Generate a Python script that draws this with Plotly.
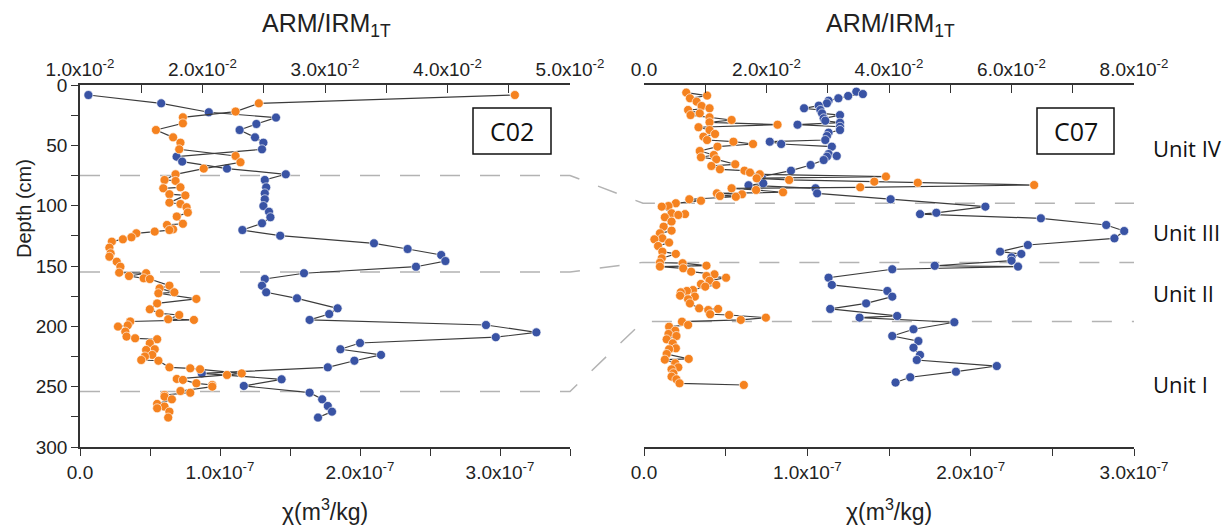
import numpy as np
import plotly.graph_objects as go

# ---------------- data ----------------
# Core C02: ARM/IRM1T (x 1e-2) vs depth (cm)
c02_arm_depth = [8.3, 15.2, 22.0, 26.8, 31.8, 37.3, 43.4, 47.8, 53.3, 58.8, 64.0, 69.3, 74.0, 78.7, 79.5,
                 84.8, 85.6, 90.5, 91.5, 97.5, 98.6, 101.3, 105.7, 109.0, 115.0, 116.0, 119.6, 120.2, 121.5,
                 122.9, 126.2, 127.9, 129.8, 134.8, 139.5, 142.3, 146.4, 150.6, 155.5, 156.0, 158.3, 160.2,
                 160.8, 166.3, 168.5, 171.8, 172.6, 177.3, 181.0, 185.9, 189.2, 190.6, 194.1, 194.7, 196.0,
                 199.2, 200.2, 204.4, 208.5, 209.9, 210.7, 214.0, 219.0, 219.6, 223.7, 225.0, 227.9, 228.5,
                 234.0, 234.8, 235.6, 239.0, 240.3, 243.6, 244.4, 247.2, 248.6, 250.0, 253.6, 255.0, 256.9,
                 258.3, 260.5, 264.3, 266.5, 267.9, 270.7, 275.6]
c02_arm = [4.55, 2.46, 2.27, 1.84, 1.84, 1.62, 1.76, 1.82, 1.81, 2.27, 2.31, 2.01, 1.78, 1.69, 1.78,
           1.82, 1.68, 1.73, 1.86, 1.73, 1.82, 1.87, 1.88, 1.79, 1.84, 1.71, 1.76, 1.73, 1.61,
           1.46, 1.42, 1.35, 1.26, 1.24, 1.25, 1.24, 1.30, 1.33, 1.32, 1.54, 1.40, 1.52,
           1.57, 1.73, 1.65, 1.77, 1.64, 1.95, 1.63, 1.57, 1.65, 1.81, 1.72, 1.93, 1.41,
           1.39, 1.31, 1.37, 1.38, 1.45, 1.63, 1.57, 1.61, 1.54, 1.59, 1.53, 1.50, 1.64,
           1.73, 1.90, 1.98, 2.32, 2.20, 1.79, 1.84, 1.95, 2.08, 2.08, 1.82, 1.90, 1.69,
           1.69, 1.75, 1.63, 1.69, 1.63, 1.73, 1.72]

# Core C02: chi (x 1e-7 m3/kg) vs depth (cm)
c02_chi_depth = [8.3, 15.2, 22.6, 27.0, 32.3, 37.3, 43.4, 47.8, 53.3, 59.4, 63.5, 69.3, 74.0, 78.7, 84.8,
                 89.8, 94.7, 100.3, 105.0, 109.6, 114.6, 120.2, 124.9, 131.2, 135.9, 140.9, 145.9, 150.6,
                 156.0, 160.8, 166.3, 171.8, 176.8, 185.1, 189.8, 194.7, 198.9, 205.0, 209.0, 213.8, 219.0,
                 223.7, 228.5, 234.0, 239.0, 243.9, 249.4, 255.0, 260.5, 266.0, 270.7, 275.6]
c02_chi = [0.06, 0.58, 0.92, 1.40, 1.26, 1.14, 1.25, 1.31, 1.30, 0.69, 0.73, 1.05, 1.47, 1.32, 1.33,
           1.32, 1.32, 1.31, 1.35, 1.36, 1.30, 1.16, 1.43, 2.10, 2.34, 2.58, 2.61, 2.40,
           1.60, 1.32, 1.30, 1.33, 1.55, 1.84, 1.78, 1.64, 2.90, 3.26, 2.97, 2.00, 1.86,
           2.15, 1.96, 1.77, 0.87, 1.44, 1.17, 1.64, 1.73, 1.77, 1.80, 1.70]

# Core C07: ARM/IRM1T (x 1e-2) vs depth (cm)
c07_arm_depth = [6.3, 8.8, 11.0, 13.8, 17.4, 19.3, 20.7, 23.5, 24.9, 26.8, 29.0, 30.9, 32.9, 35.0, 37.3,
                 40.6, 42.8, 45.6, 47.0, 48.9, 51.1, 54.7, 58.0, 59.9, 61.6, 65.7, 67.1, 69.9, 71.0, 72.6,
                 74.0, 75.9, 77.3, 78.7, 80.1, 81.0, 82.9, 84.8, 85.6, 87.0, 88.9, 89.8, 90.6, 92.0, 92.6,
                 94.7, 95.9, 98.0, 100.3, 100.8, 106.3, 107.0, 107.7, 109.6, 113.2, 117.4, 120.7, 122.9,
                 127.0, 127.9, 130.6, 133.4, 138.1, 140.0, 143.6, 147.2, 147.7, 149.7, 150.5, 151.9, 154.7,
                 156.9, 158.3, 159.7, 162.2, 164.9, 165.7, 167.1, 169.9, 170.7, 171.8, 174.6, 175.4, 177.6,
                 181.0, 185.1, 185.6, 186.5, 190.0, 190.6, 192.8, 194.7, 196.1, 198.9, 200.3, 203.6, 206.3,
                 208.0, 210.8, 214.1, 218.2, 219.0, 222.9, 227.0, 227.6, 230.6, 234.0, 235.6, 238.9, 241.7,
                 243.9, 247.2, 248.6]
c07_arm = [0.69, 1.03, 0.75, 0.86, 0.94, 1.07, 0.72, 0.91, 0.76, 1.07, 1.43, 1.07, 2.18, 0.89, 1.07,
           1.16, 0.97, 1.03, 1.46, 1.78, 1.20, 0.91, 1.14, 0.93, 1.18, 1.49, 1.10, 1.24, 1.64, 1.73,
           1.89, 3.95, 1.84, 2.37, 3.76, 4.47, 6.37, 3.53, 1.43, 1.83, 2.27, 1.19, 1.60, 1.24, 1.50,
           0.74, 0.93, 0.52, 0.40, 0.29, 0.45, 0.67, 0.56, 0.34, 0.45, 0.32, 0.45, 0.26,
           0.30, 0.17, 0.41, 0.23, 0.30, 0.52, 0.29, 0.26, 0.63, 1.02, 0.26, 0.64, 0.77,
           1.15, 1.02, 1.34, 1.07, 0.93, 1.18, 1.00, 0.80, 0.70, 0.60, 0.59, 0.83, 0.72,
           0.75, 0.90, 1.21, 1.05, 1.08, 1.39, 1.99, 1.58, 0.62, 0.72, 0.41, 0.51, 0.40,
           0.53, 0.37, 0.47, 0.52, 0.41, 0.37, 0.73, 0.34, 0.51, 0.56, 0.45, 0.48, 0.45,
           0.53, 0.58, 1.63]

# Core C07: chi (x 1e-7 m3/kg) vs depth (cm)
c07_chi_depth = [5.5, 7.5, 9.1, 11.0, 13.0, 15.2, 17.1, 19.3, 20.7, 23.5, 24.9, 27.6, 29.6, 31.2, 32.9,
                 34.6, 37.3, 39.5, 42.3, 45.6, 47.0, 48.9, 51.1, 57.2, 58.8, 59.4, 62.2, 66.3, 71.0, 75.9,
                 78.1, 81.5, 83.1, 85.6, 89.8, 94.7, 100.8, 105.9, 107.0, 110.5, 116.0, 121.0, 127.1,
                 132.6, 138.1, 140.0, 142.8, 145.6, 149.8, 150.5, 152.7, 159.7, 165.7, 170.7, 175.4,
                 181.0, 185.6, 191.4, 192.8, 196.6, 202.4, 208.0, 212.2, 217.7, 223.7, 227.9, 232.9,
                 237.6, 242.2, 246.6]
c07_chi = [1.30, 1.34, 1.25, 1.19, 1.13, 1.12, 1.07, 0.98, 1.08, 1.09, 1.20, 1.10, 1.11, 1.20, 0.94,
           1.20, 1.20, 1.13, 1.12, 1.11, 0.77, 0.84, 1.15, 1.13, 1.18, 1.12, 1.10, 1.02, 0.90, 0.72,
           0.71, 0.73, 0.64, 1.05, 1.06, 1.51, 2.09, 1.79, 1.69, 2.43, 2.83, 2.94, 2.88,
           2.35, 2.18, 2.31, 2.25, 2.25, 1.78, 2.29, 1.52, 1.13, 1.15, 1.49, 1.52,
           1.36, 1.14, 1.55, 1.32, 1.90, 1.65, 1.52, 1.68, 1.65, 1.69, 1.67, 2.16,
           1.91, 1.63, 1.54]

# unit boundaries (cm)
c02_bounds = [75, 155, 254]
c07_bounds = [98, 147, 196]
unit_names = ["Unit IV", "Unit III", "Unit II", "Unit I"]
unit_label_depth = [52, 122, 172, 248]

# tick labels
chi_ticks = [0, 1e-7, 2e-7, 3e-7]
chi_text = ["0.0", "1.0x10<sup>-7</sup>", "2.0x10<sup>-7</sup>", "3.0x10<sup>-7</sup>"]
arm_ticks_c02 = [1e-2, 2e-2, 3e-2, 4e-2, 5e-2]
arm_text_c02 = ["1.0x10<sup>-2</sup>", "2.0x10<sup>-2</sup>", "3.0x10<sup>-2</sup>",
                "4.0x10<sup>-2</sup>", "5.0x10<sup>-2</sup>"]
arm_ticks_c07 = [0, 2e-2, 4e-2, 6e-2, 8e-2]
arm_text_c07 = ["0.0", "2.0x10<sup>-2</sup>", "4.0x10<sup>-2</sup>", "6.0x10<sup>-2</sup>",
                "8.0x10<sup>-2</sup>"]
depth_ticks = [0, 50, 100, 150, 200, 250, 300]

# ---------------- layout helpers ----------------
W, H = 1228, 527
def px(x):
    return x / W
def py(y):
    return 1 - y / H

ORANGE = "#F5821F"
BLUE = "#3953A4"
LINE = "#3c3c3c"
AX = "#333333"
TICKFONT = dict(family="Liberation Sans, Arial, sans-serif", size=19, color="#222")

fig = go.Figure()

def add_series(x, d, xaxis, yaxis, color):
    fig.add_trace(go.Scatter(
        x=x, y=d, xaxis=xaxis, yaxis=yaxis, mode="lines+markers",
        line=dict(color=LINE, width=1.2),
        marker=dict(color=color, size=9, line=dict(color="rgba(255,255,255,0.8)", width=0.8)),
        showlegend=False, hoverinfo="skip"))

add_series(np.array(c02_arm) * 1e-2, c02_arm_depth, "x2", "y", ORANGE)
add_series(np.array(c02_chi) * 1e-7, c02_chi_depth, "x", "y", BLUE)
add_series(np.array(c07_arm) * 1e-2, c07_arm_depth, "x4", "y2", ORANGE)
add_series(np.array(c07_chi) * 1e-7, c07_chi_depth, "x3", "y2", BLUE)

dom_l = [px(80), px(570)]
dom_r = [px(644), px(1134)]
dom_y = [py(447), py(85)]

common_x = dict(showgrid=False, zeroline=False, showline=True, linecolor=AX, linewidth=1.6,
                tickcolor=AX, tickwidth=1.4, tickfont=TICKFONT, automargin=False, tickmode="array")

fig.update_layout(
    width=W, height=H, margin=dict(l=0, r=0, t=0, b=0),
    paper_bgcolor="white", plot_bgcolor="white",
    xaxis=dict(domain=dom_l, range=[0, 3.5e-7], anchor="y", side="bottom",
               tickvals=chi_ticks, ticktext=chi_text, ticks="outside", ticklen=7,
               minor=dict(dtick=0.5e-7, tick0=0, ticks="outside", ticklen=7, tickcolor=AX, tickwidth=1.4),
               **common_x),
    xaxis2=dict(domain=dom_l, range=[1e-2, 5e-2], anchor="y", overlaying="x", side="top",
                tickvals=arm_ticks_c02, ticktext=arm_text_c02, ticks="inside", ticklen=8,
                ticklabelstandoff=0,
                minor=dict(dtick=0.5e-2, tick0=0, ticks="inside", ticklen=8, tickcolor=AX, tickwidth=1.4),
                **common_x),
    xaxis3=dict(domain=dom_r, range=[0, 3e-7], anchor="y2", side="bottom",
                tickvals=chi_ticks, ticktext=chi_text, ticks="outside", ticklen=7,
                minor=dict(dtick=0.5e-7, tick0=0, ticks="outside", ticklen=7, tickcolor=AX, tickwidth=1.4),
                **common_x),
    xaxis4=dict(domain=dom_r, range=[0, 8e-2], anchor="y2", overlaying="x3", side="top",
                tickvals=arm_ticks_c07, ticktext=arm_text_c07, ticks="inside", ticklen=8,
                ticklabelstandoff=0,
                minor=dict(dtick=1e-2, tick0=0, ticks="inside", ticklen=8, tickcolor=AX, tickwidth=1.4),
                **common_x),
    yaxis=dict(domain=dom_y, range=[300, 0], anchor="x", showgrid=False, zeroline=False,
               showline=True, linecolor=AX, linewidth=1.6, ticks="outside", ticklen=7,
               tickcolor=AX, tickwidth=1.4, tickmode="array", tickvals=depth_ticks,
               minor=dict(dtick=25, tick0=0, ticks="outside", ticklen=7, tickcolor=AX, tickwidth=1.4),
               tickfont=TICKFONT, automargin=False),
    yaxis2=dict(domain=dom_y, range=[300, 0], anchor="x3", visible=False),
)

# dashed unit boundary lines connecting both cores
for b_left, b_right in zip(c02_bounds, c07_bounds):
    fig.add_shape(type="path", xref="paper", yref="y",
                  path=f"M {px(80)},{b_left} L {px(570)},{b_left} L {px(643)},{b_right} L {px(1134)},{b_right}",
                  line=dict(color="#b3b3b3", width=1.5, dash="20px,20px"), layer="below")

# core name boxes
for name, x0, x1 in [("C02", 473, 551), ("C07", 1037, 1114)]:
    fig.add_shape(type="rect", xref="paper", yref="paper", x0=px(x0), x1=px(x1), y0=py(154), y1=py(108),
                  line=dict(color="#111", width=1.5), fillcolor="white")
    fig.add_annotation(text=name, xref="paper", yref="paper", x=px((x0 + x1) / 2), y=py(131),
                       showarrow=False, font=dict(family="Open Sans, sans-serif", size=25, color="#111"),
                       xanchor="center", yanchor="middle")

# unit labels
for name, d in zip(unit_names, unit_label_depth):
    fig.add_annotation(text=name, xref="paper", yref="y2", x=px(1151), y=d, showarrow=False,
                       xanchor="left", yanchor="middle",
                       font=dict(family="Open Sans, sans-serif", size=22, color="#111"))

TITLEFONT = dict(family="Liberation Sans, Arial, sans-serif", size=25, color="#222")
for xc in [326, 890]:
    fig.add_annotation(text="ARM/IRM<sub>1T</sub>", xref="paper", yref="paper", x=px(xc), y=py(25),
                       showarrow=False, xanchor="center", yanchor="middle", font=TITLEFONT)
for xc in [325, 889]:
    fig.add_annotation(text="χ(m<sup>3</sup>/kg)", xref="paper", yref="paper", x=px(xc), y=py(510),
                       showarrow=False, xanchor="center", yanchor="middle",
                       font=dict(family="Liberation Sans Narrow, Liberation Sans, Arial", size=23, color="#222"))
fig.add_annotation(text="Depth (cm)", xref="paper", yref="paper", x=px(24), y=py(208), textangle=-90,
                   showarrow=False, xanchor="center", yanchor="middle",
                   font=dict(family="Liberation Sans, Arial, sans-serif", size=20, color="#222"))

fig.write_html("out.html")
